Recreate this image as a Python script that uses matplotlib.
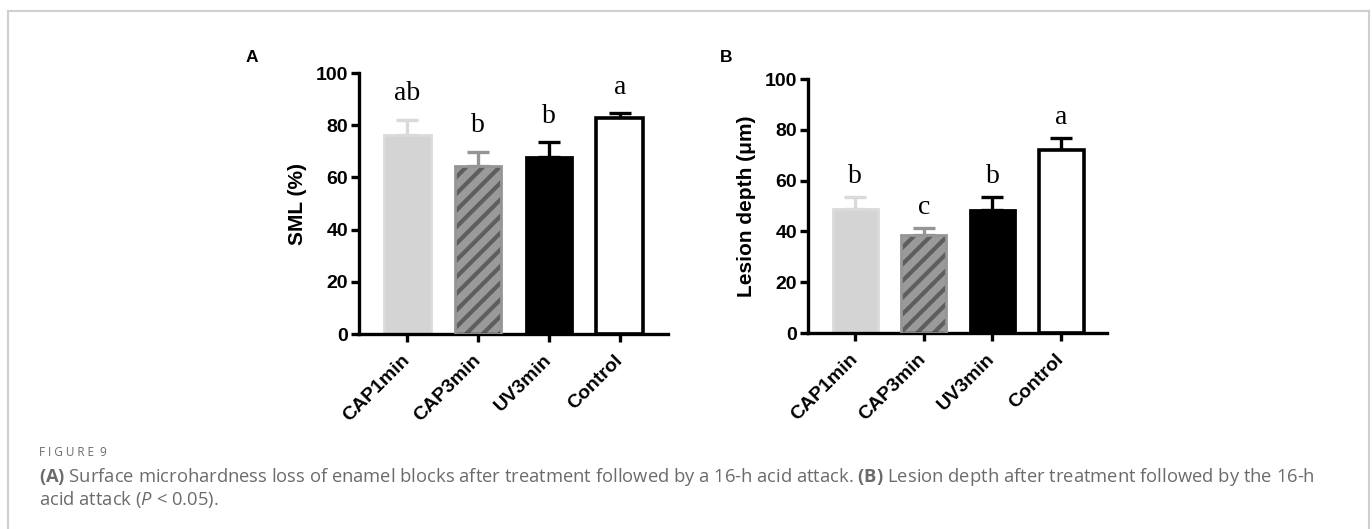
import numpy as np
import matplotlib.pyplot as plt
from matplotlib.lines import Line2D

groups = ["CAP1min", "CAP3min", "UV3min", "Control"]

sml = [76.1, 64.3, 67.7, 82.6]
sml_err = [6.0, 5.6, 5.7, 2.0]
sml_letters = ["ab", "b", "b", "a"]

depth = [48.8, 38.6, 48.4, 72.2]
depth_err = [4.7, 2.7, 5.1, 4.7]
depth_letters = ["b", "c", "b", "a"]

fills = ["#d4d4d4", "#9a9a9a", "black", "white"]
edges = ["#dadada", "#959595", "black", "black"]

plt.rcParams["hatch.linewidth"] = 3.0
plt.rcParams["mathtext.fontset"] = "custom"
plt.rcParams["mathtext.bf"] = "Open Sans:bold"
plt.rcParams["mathtext.it"] = "Open Sans:italic"
plt.rcParams["mathtext.rm"] = "Open Sans"

fig = plt.figure(figsize=(13.72, 5.29), dpi=100)


def panel(ax, vals, errs, letters, ylabel, off, w):
    x = np.arange(len(vals))
    for i in range(len(vals)):
        if i == 1:
            ax.bar(x[i], vals[i], w, color=fills[i], edgecolor="#5e5e5e", linewidth=0, hatch="//", zorder=2)
            ax.bar(x[i], vals[i], w, fill=False, edgecolor=edges[i], linewidth=2, zorder=3)
        else:
            ax.bar(x[i], vals[i], w, color=fills[i], edgecolor=edges[i], linewidth=2.6 if i == 3 else 2, zorder=2)
        ax.errorbar(x[i], vals[i], yerr=[[0], [errs[i]]], color=edges[i], capsize=8, elinewidth=2.4,
                    capthick=2.4, zorder=1)
        ax.text(x[i], vals[i] + errs[i] + off, letters[i], ha="center", va="baseline",
                family="Liberation Serif", fontsize=20)
    ax.set_ylim(0, 100)
    ax.set_yticks([0, 20, 40, 60, 80, 100])
    ax.set_xticks(x)
    ax.set_xticklabels(groups, rotation=45, ha="right", va="center", rotation_mode="anchor")
    for s in ["top", "right"]:
        ax.spines[s].set_visible(False)
    for s in ["left", "bottom"]:
        ax.spines[s].set_linewidth(2.4)
    ax.tick_params(width=2.4, length=6, labelsize=14, pad=2)
    ax.tick_params(axis="x", pad=11)
    for t in ax.get_xticklabels() + ax.get_yticklabels():
        t.set_fontweight("bold")
        t.set_family("Liberation Sans")
    ax.set_ylabel(ylabel, fontsize=15, fontweight="bold", family="Liberation Sans", labelpad=6)


axA = fig.add_axes([0.2617, 0.3686, 0.2252, 0.4934])
panel(axA, sml, sml_err, sml_letters, "SML (%)", 7.5, 0.66)
axA.set_xlim(-0.68, 3.68)

axB = fig.add_axes([0.589, 0.3705, 0.2179, 0.480])
panel(axB, depth, depth_err, depth_letters, "Lesion depth (μm)", 5.5, 0.655)
axB.set_xlim(-0.684, 3.668)

fig.text(246 / 1372, 1 - 57 / 529, "A", fontsize=12.5, fontweight="bold", family="Liberation Sans", va="center")
fig.text(720 / 1372, 1 - 57 / 529, "B", fontsize=12.5, fontweight="bold", family="Liberation Sans", va="center")

# frame around the figure
fc = "#cfcfcf"
fig.add_artist(Line2D([8 / 1372, 1369 / 1372], [1 - 11 / 529] * 2, color=fc, lw=1.5))
fig.add_artist(Line2D([8 / 1372] * 2, [0, 1 - 11 / 529], color=fc, lw=1.5))
fig.add_artist(Line2D([1369 / 1372] * 2, [0, 1 - 11 / 529], color=fc, lw=1.5))

cap = "#6b6b6b"
fig.text(39 / 1372, 1 - 452 / 529, "F I G U R E  9", fontsize=8.5, color=cap, family="Open Sans", va="center")
fig.text(39 / 1372, 1 - 477 / 529,
         r"$\mathbf{(A)}$ Surface microhardness loss of enamel blocks after treatment followed by a 16-h acid attack. "
         r"$\mathbf{(B)}$ Lesion depth after treatment followed by the 16-h",
         fontsize=13.2, color=cap, family="Open Sans", va="center")
fig.text(39 / 1372, 1 - 499 / 529, r"acid attack ($\mathit{P}$ < 0.05).", fontsize=13.2, color=cap,
         family="Open Sans", va="center")

fig.savefig("out.png", dpi=100)
